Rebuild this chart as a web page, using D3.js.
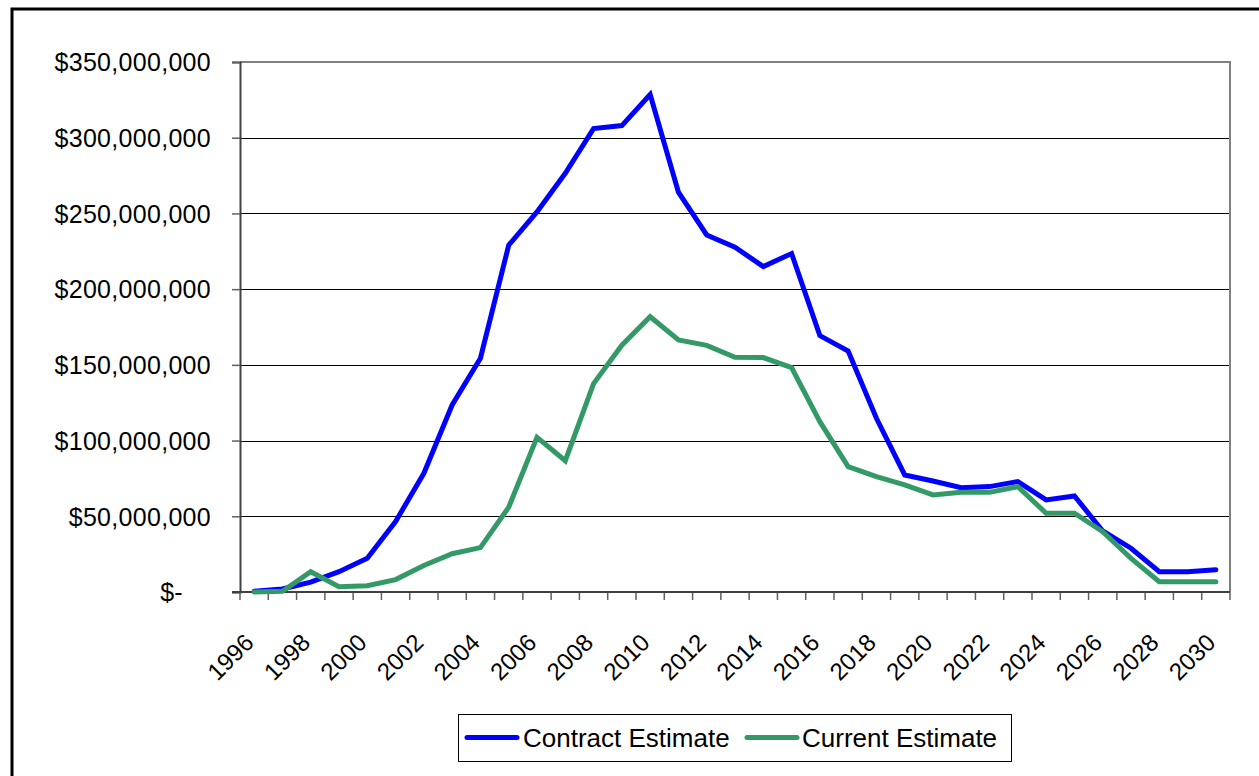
<!DOCTYPE html>
<html>
<head>
<meta charset="utf-8">
<script src="https://cdn.jsdelivr.net/npm/d3@7/dist/d3.min.js"></script>
<style>
  html, body { margin: 0; padding: 0; background: #fff; }
  svg { display: block; }
  text { font-family: "Liberation Sans", Arial, sans-serif; fill: #000; }
</style>
</head>
<body>
<svg id="chart" width="1259" height="776"></svg>
<script>
// Years on the category axis
const years = d3.range(1996, 2031).map(String);

// Annual totals, in dollars (millions × 1e6)
const contractEstimate = [
  0.5, 2, 6.5, 13.4, 22.3, 46.5, 78.4, 123.5, 154.4, 229, 251, 276.5,
  306, 308, 328.5, 264, 235.8, 227.7, 214.9, 223.5, 169.3, 159.2, 114.7, 77.3,
  73.3, 68.9, 69.6, 72.9, 60.8, 63.4, 40.3, 28.9, 13.4, 13.4, 14.7
].map(v => v * 1e6);

const currentEstimate = [
  0, 0.5, 13.4, 3.5, 4.1, 8.2, 17.5, 25.3, 29.3, 56, 102.2, 86.7,
  137.6, 163, 181.8, 166.4, 162.9, 155, 154.8, 148.2, 112.5, 82.8, 76.2, 70.7,
  64.1, 65.8, 65.8, 69.6, 52, 52, 39.8, 22.2, 6.8, 6.8, 6.8
].map(v => v * 1e6);

// Value axis ticks and labels shown every other year
const yTicks = [0, 50e6, 100e6, 150e6, 200e6, 250e6, 300e6, 350e6];
const xLabelYears = years.filter((d, i) => i % 2 === 0);

const seriesNames = ["Contract Estimate", "Current Estimate"];
const seriesColors = ["#0000ff", "#339966"];

const svg = d3.select("#chart");

// Outer chart frame
svg.append("rect")
  .attr("x", 12).attr("y", 9)
  .attr("width", 1270).attr("height", 790)
  .attr("fill", "#fff").attr("stroke", "#000").attr("stroke-width", 3);

const plot = { left: 240, right: 1230, top: 62, bottom: 592 };

const x = d3.scaleBand().domain(years).range([plot.left, plot.right]).padding(0);
const cx = d => x(d) + x.bandwidth() / 2;
const y = d3.scaleLinear().domain([0, 350e6]).range([plot.bottom, plot.top]);

// Horizontal gridlines
svg.append("g").selectAll("line")
  .data(yTicks.filter(v => v > 0))
  .join("line")
  .attr("x1", plot.left).attr("x2", plot.right)
  .attr("y1", d => Math.round(y(d)) + 0.5).attr("y2", d => Math.round(y(d)) + 0.5)
  .attr("stroke", "#000").attr("stroke-width", 1);

// Plot area border on top and right
svg.append("path")
  .attr("d", `M${plot.left},${plot.top} H${plot.right} V${plot.bottom}`)
  .attr("fill", "none").attr("stroke", "#808080").attr("stroke-width", 2);

// Value axis
const fmt = d3.format(",.0f");
const yAxis = d3.axisLeft(y)
  .tickValues(yTicks)
  .tickSize(8)
  .tickPadding(21)
  .tickFormat(v => v === 0 ? "$-" : "$" + fmt(v));

const gy = svg.append("g")
  .attr("transform", `translate(${plot.left},0)`)
  .call(yAxis);
gy.select(".domain").attr("stroke", "#404040").attr("stroke-width", 2);
gy.selectAll(".tick line").attr("stroke", "#606060").attr("stroke-width", 1.5);
gy.selectAll(".tick text")
  .attr("font-size", 25)
  .attr("letter-spacing", 0.3)
  .attr("font-family", "'Liberation Sans', Arial, sans-serif")
  .attr("fill", "#000")
  .attr("dy", "0.35em")
  .attr("dx", v => v === 0 ? -28 : 0);

// Category axis line and tick marks between categories
const boundaries = years.map(d => x(d)).concat([plot.right]);
svg.append("g").selectAll("line")
  .data(boundaries)
  .join("line")
  .attr("x1", d => d).attr("x2", d => d)
  .attr("y1", plot.bottom).attr("y2", plot.bottom + 8)
  .attr("stroke", "#606060").attr("stroke-width", 1.5);

svg.append("line")
  .attr("x1", plot.left - 8).attr("x2", plot.right)
  .attr("y1", plot.bottom).attr("y2", plot.bottom)
  .attr("stroke", "#404040").attr("stroke-width", 2);

// Rotated year labels
svg.append("g").selectAll("text")
  .data(xLabelYears)
  .join("text")
  .attr("transform", d => `translate(${cx(d) + 1},${plot.bottom + 52}) rotate(-45)`)
  .attr("text-anchor", "end")
  .attr("font-size", 24)
  .text(d => d);

// Series lines
const line = d3.line()
  .x((d, i) => cx(years[i]))
  .y(d => y(d));

[contractEstimate, currentEstimate].forEach((vals, k) => {
  svg.append("path")
    .datum(vals)
    .attr("d", line)
    .attr("fill", "none")
    .attr("stroke", seriesColors[k])
    .attr("stroke-width", 5)
    .attr("stroke-linejoin", "miter")
    .attr("stroke-linecap", "round");
});

// Legend
const legend = svg.append("g");
legend.append("rect")
  .attr("x", 458.5).attr("y", 714.5)
  .attr("width", 553).attr("height", 47)
  .attr("fill", "#fff").attr("stroke", "#000").attr("stroke-width", 1);

const legendItems = [
  { x0: 467, x1: 517, tx: 523 },
  { x0: 747, x1: 797, tx: 802 }
];
legendItems.forEach((it, k) => {
  legend.append("line")
    .attr("x1", it.x0).attr("x2", it.x1)
    .attr("y1", 737.5).attr("y2", 737.5)
    .attr("stroke", seriesColors[k]).attr("stroke-width", 5)
    .attr("stroke-linecap", "round");
  legend.append("text")
    .attr("x", it.tx).attr("y", 747)
    .attr("font-size", 26)
    .text(seriesNames[k]);
});
</script>
</body>
</html>
